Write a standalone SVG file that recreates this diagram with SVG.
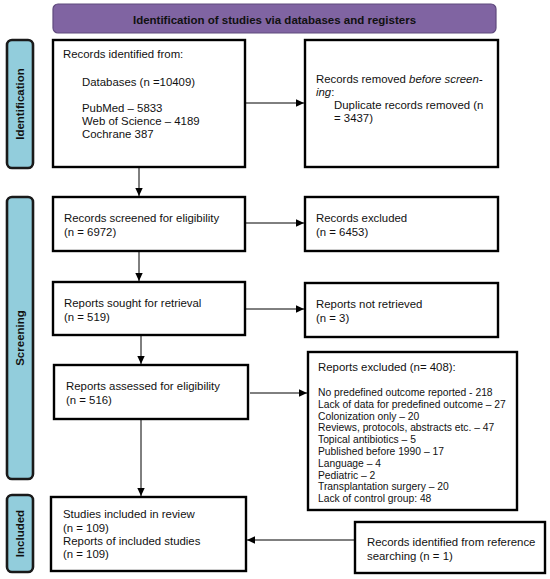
<svg xmlns="http://www.w3.org/2000/svg" width="550" height="579" viewBox="0 0 550 579">
<defs>
<marker id="ah" markerWidth="9" markerHeight="9" refX="8" refY="4.5" orient="auto" markerUnits="userSpaceOnUse"><path d="M0,0.8 L8,4.5 L0,8.2 Z" fill="#000"/></marker>
<style>
.box{fill:#fff;stroke:#000;stroke-width:2.4}
.side{fill:#92CDDC;stroke:#1a1a1a;stroke-width:2.6}
.t{font-family:"Liberation Sans",Arial,sans-serif;font-size:11.4px;fill:#111}
.ts{font-family:"Liberation Sans",Arial,sans-serif;font-size:10.3px;fill:#111}
.sl{font-family:"Liberation Sans",Arial,sans-serif;font-size:11.5px;font-weight:bold;fill:#111}
.c{stroke:#000;stroke-width:1;fill:none;marker-end:url(#ah)}
</style>
</defs>
<rect width="550" height="579" fill="#fff"/>
<g id="header">
<rect x="53" y="4" width="443" height="29" rx="5" fill="#8064A2" stroke="#5f4a7d" stroke-width="1.2"/>
<text x="274.5" y="24" text-anchor="middle" class="sl">Identification of studies via databases and registers</text>
</g>
<g id="side-identification">
<rect x="7" y="40" width="26" height="128" rx="5" class="side"/>
<text transform="translate(24,104) rotate(-90)" text-anchor="middle" class="sl">Identification</text>
</g>
<g id="side-screening">
<rect x="7" y="197" width="26" height="282" rx="5" class="side"/>
<text transform="translate(24,338) rotate(-90)" text-anchor="middle" class="sl">Screening</text>
</g>
<g id="side-included">
<rect x="7" y="495" width="26" height="77" rx="5" class="side"/>
<text transform="translate(24,533.5) rotate(-90)" text-anchor="middle" class="sl">Included</text>
</g>
<g id="records-identified">
<rect x="53" y="40" width="192" height="127" class="box"/>
<text class="t" x="63" y="58">Records identified from:</text>
<text class="t" x="82" y="86">Databases (n =10409)</text>
<text class="t" x="82" y="112">PubMed – 5833</text>
<text class="t" x="82" y="125">Web of Science – 4189</text>
<text class="t" x="82" y="138">Cochrane 387</text>
</g>
<g id="records-removed">
<rect x="305" y="40" width="193" height="127" class="box"/>
<text class="t" x="316" y="83">Records removed <tspan font-style="italic">before screen-</tspan></text>
<text class="t" x="316" y="96"><tspan font-style="italic">ing</tspan>:</text>
<text class="t" x="334" y="109">Duplicate records removed (n</text>
<text class="t" x="334" y="122">= 3437)</text>
</g>
<g id="records-screened">
<rect x="53" y="197" width="192" height="54" class="box"/>
<text class="t" x="64" y="222">Records screened for eligibility</text>
<text class="t" x="64" y="236">(n = 6972)</text>
</g>
<g id="records-excluded">
<rect x="305" y="197" width="193" height="54" class="box"/>
<text class="t" x="316" y="222">Records excluded</text>
<text class="t" x="316" y="236">(n = 6453)</text>
</g>
<g id="reports-sought">
<rect x="53" y="282" width="192" height="53" class="box"/>
<text class="t" x="64" y="307">Reports sought for retrieval</text>
<text class="t" x="64" y="321">(n = 519)</text>
</g>
<g id="reports-not-retrieved">
<rect x="305" y="283" width="193" height="54" class="box"/>
<text class="t" x="316" y="308">Reports not retrieved</text>
<text class="t" x="316" y="322">(n = 3)</text>
</g>
<g id="reports-assessed">
<rect x="54" y="365" width="194" height="54" class="box"/>
<text class="t" x="66" y="390">Reports assessed for eligibility</text>
<text class="t" x="66" y="404">(n = 516)</text>
</g>
<g id="reports-excluded">
<rect x="308" y="352" width="209" height="158" class="box"/>
<text class="t" x="318" y="371">Reports excluded (n= 408):</text>
<text class="ts" x="318" y="396">No predefined outcome reported - 218</text>
<text class="ts" x="318" y="407.8">Lack of data for predefined outcome – 27</text>
<text class="ts" x="318" y="419.6">Colonization only – 20</text>
<text class="ts" x="318" y="431.4">Reviews, protocols, abstracts etc. – 47</text>
<text class="ts" x="318" y="443.2">Topical antibiotics – 5</text>
<text class="ts" x="318" y="455">Published before 1990 – 17</text>
<text class="ts" x="318" y="466.8">Language – 4</text>
<text class="ts" x="318" y="478.6">Pediatric – 2</text>
<text class="ts" x="318" y="490.4">Transplantation surgery – 20</text>
<text class="ts" x="318" y="502.2">Lack of control group: 48</text>
</g>
<g id="studies-included">
<rect x="51" y="497" width="195" height="74" class="box"/>
<text class="t" x="63" y="518">Studies included in review</text>
<text class="t" x="63" y="532">(n = 109)</text>
<text class="t" x="63" y="545">Reports of included studies</text>
<text class="t" x="63" y="558">(n = 109)</text>
</g>
<g id="reference-searching">
<rect x="355" y="522" width="190" height="51" class="box"/>
<text class="t" x="367" y="546">Records identified from reference</text>
<text class="t" x="367" y="560">searching (n = 1)</text>
</g>
<g id="connectors">
<line x1="246" y1="103" x2="304" y2="103" class="c"/>
<line x1="139" y1="167" x2="139" y2="196" class="c"/>
<line x1="246" y1="223" x2="304" y2="223" class="c"/>
<line x1="139" y1="251" x2="139" y2="281" class="c"/>
<line x1="246" y1="309" x2="304" y2="309" class="c"/>
<line x1="141" y1="335" x2="141" y2="364" class="c"/>
<line x1="250" y1="393" x2="307" y2="393" class="c"/>
<line x1="141" y1="419" x2="141" y2="496" class="c"/>
<line x1="354" y1="540" x2="247" y2="540" class="c"/>
</g>
</svg>
